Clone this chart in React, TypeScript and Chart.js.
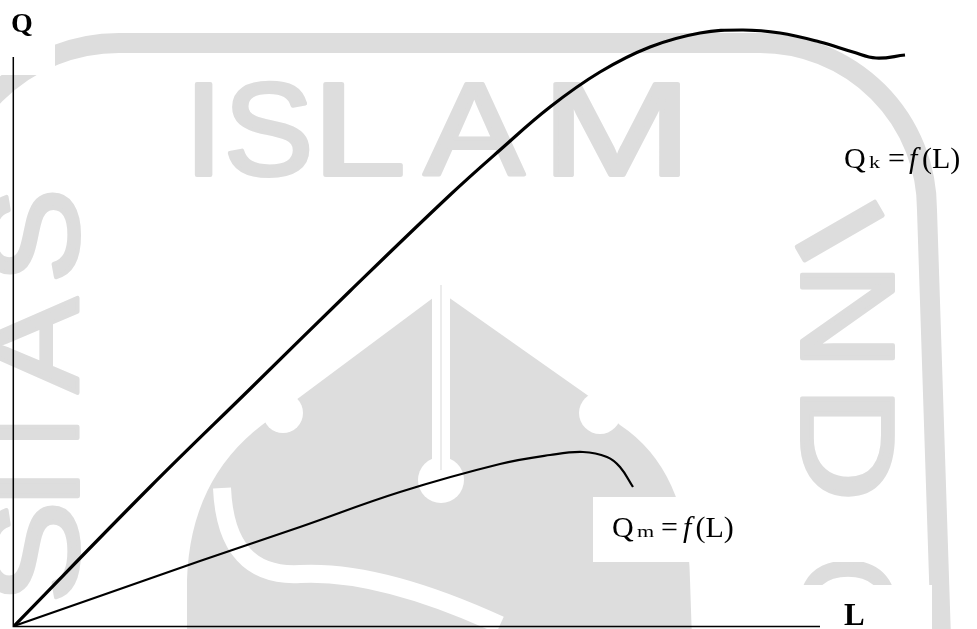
import React, { useEffect, useRef } from "react";
import { Chart, registerables } from "chart.js";

Chart.register(...registerables);

// Total product with capital (Qk) — labour input and output
const qkLabour = [0, 13.6, 23.6, 33.6, 43.6, 48.6, 53.6, 58.6, 63.6, 68.6, 72.9, 76.6, 80.6, 83.9, 86.2, 89.1];
const qkOutput = [0, 13.9, 23.7, 33.5, 43.1, 47.6, 51.9, 55.4, 57.9, 59.3, 59.6, 59.3, 58.4, 57.4, 56.8, 57.1];

// Total product without capital (Qm)
const qmLabour = [0, 8.6, 18.6, 28.6, 38.6, 48.6, 53.6, 56.9, 59.3, 60.6, 61.9];
const qmOutput = [0, 3.0, 6.5, 9.9, 13.4, 16.2, 17.1, 17.4, 16.9, 15.9, 13.9];

// Axis names and curve labels
const axisNames = ["Q", "L"];
const curveMain = ["Q", "Q"];
const curveSub = ["k", "m"];
const curveRest = ["=", "f", "(L)"];

// Axis extents (in data units)
const qAxisTop = 56.9;
const lAxisEnd = 80.6;

const W = 977;
const H = 629;
const SERIF = "'Liberation Serif', 'Times New Roman', serif";
const SANS = "'Liberation Sans', Arial, sans-serif";
const GREY = "rgb(221,221,221)";

function letter(ctx: CanvasRenderingContext2D, ch: string, x: number, y: number, angle: number, len: number) {
  const m = ctx.measureText(ch);
  const inkW = m.actualBoundingBoxLeft + m.actualBoundingBoxRight;
  ctx.save();
  ctx.translate(x, y);
  ctx.rotate(angle);
  ctx.scale(len / inkW, 1);
  ctx.fillText(ch, m.actualBoundingBoxLeft, 0);
  ctx.lineWidth = 4;
  ctx.lineJoin = "round";
  ctx.strokeText(ch, m.actualBoundingBoxLeft, 0);
  ctx.restore();
}

function circle(ctx: CanvasRenderingContext2D, x: number, y: number, r: number) {
  ctx.beginPath();
  ctx.arc(x, y, r, 0, Math.PI * 2);
  ctx.fill();
}

function drawWatermark(ctx: CanvasRenderingContext2D) {
  ctx.save();
  ctx.fillStyle = GREY;
  ctx.strokeStyle = GREY;
  ctx.textAlign = "left";
  ctx.textBaseline = "alphabetic";

  // arch band
  ctx.lineWidth = 20;
  ctx.lineCap = "butt";
  ctx.beginPath();
  ctx.moveTo(-56, 700);
  ctx.lineTo(-56, 220);
  ctx.arcTo(-56, 43, 130, 43, 175);
  ctx.lineTo(760, 43);
  ctx.arcTo(927, 43, 927, 220, 167);
  ctx.lineTo(943, 700);
  ctx.stroke();

  ctx.font = `131px ${SANS}`;
  // ISLAM
  const islam: [string, number, number][] = [
    ["I", 197, 211], ["S", 229, 308], ["L", 325, 401], ["A", 424, 525], ["M", 555, 678],
  ];
  for (const [ch, a, b] of islam) letter(ctx, ch, a, 175, 0, b - a);

  // UNIVERSITAS (left, reading upward)
  const left: [string, number, number][] = [
    ["S", 194, 278], ["A", 297, 393], ["T", 397, 468], ["I", 480, 496], ["S", 507, 598],
  ];
  for (const [ch, a, b] of left) letter(ctx, ch, 78, b, -Math.PI / 2, b - a);

  // INDONESIA (right, reading downward)
  letter(ctx, "I", 797, 247, Math.PI / 3, 16);
  const right: [string, number, number][] = [["N", 274, 358], ["D", 398, 495], ["O", 562, 653]];
  for (const [ch, a, b] of right) letter(ctx, ch, 802, a, Math.PI / 2, b - a);

  // logo
  ctx.beginPath();
  ctx.moveTo(441, 292);
  ctx.lineTo(300, 397);
  ctx.lineTo(262, 425);
  ctx.quadraticCurveTo(190, 480, 187, 580);
  ctx.lineTo(187, 640);
  ctx.lineTo(692, 640);
  ctx.lineTo(690, 580);
  ctx.quadraticCurveTo(688, 470, 620, 425);
  ctx.lineTo(590, 397);
  ctx.closePath();
  ctx.fill();

  ctx.fillStyle = "#fff";
  ctx.fillRect(432, 270, 18, 210);
  circle(ctx, 441, 480, 23);
  circle(ctx, 283, 413, 20);
  circle(ctx, 600, 413, 21);
  ctx.strokeStyle = "rgb(236,236,236)";
  ctx.lineWidth = 2;
  ctx.beginPath();
  ctx.moveTo(441, 285);
  ctx.lineTo(441, 470);
  ctx.stroke();

  ctx.strokeStyle = "#fff";
  ctx.lineWidth = 18;
  ctx.beginPath();
  ctx.moveTo(222, 488);
  ctx.quadraticCurveTo(226, 578, 300, 574);
  ctx.quadraticCurveTo(380, 570, 500, 625);
  ctx.stroke();

  // text-box backgrounds that hide the watermark
  ctx.fillStyle = "#fff";
  ctx.fillRect(0, 0, 55, 75);
  ctx.fillRect(593, 497, 285, 65);
  ctx.fillRect(760, 585, 172, 44);
  ctx.restore();
}

function drawEquation(ctx: CanvasRenderingContext2D, i: number, xs: number[], baseline: number) {
  ctx.fillStyle = "#000";
  ctx.textAlign = "left";
  ctx.textBaseline = "alphabetic";
  ctx.font = `30px ${SERIF}`;
  ctx.fillText(curveMain[i], xs[0], baseline);
  ctx.save();
  ctx.translate(xs[1], baseline);
  ctx.scale(1.3, 1);
  ctx.font = `17px ${SERIF}`;
  ctx.fillText(curveSub[i], 0, 0);
  ctx.restore();
  ctx.font = `30px ${SERIF}`;
  ctx.fillText(curveRest[0], xs[2], baseline);
  ctx.font = `italic 30px ${SERIF}`;
  ctx.fillText(curveRest[1], xs[3], baseline);
  ctx.font = `30px ${SERIF}`;
  ctx.fillText(curveRest[2], xs[4], baseline);
}

const backgroundPlugin = {
  id: "bg",
  beforeDraw(chart: any) {
    const ctx: CanvasRenderingContext2D = chart.ctx;
    ctx.save();
    ctx.fillStyle = "#fff";
    ctx.fillRect(0, 0, chart.width, chart.height);
    ctx.restore();
    drawWatermark(ctx);
  },
};

const axesPlugin = {
  id: "axesLines",
  beforeDatasetsDraw(chart: any) {
    const ctx: CanvasRenderingContext2D = chart.ctx;
    const { x, y } = chart.scales;
    const x0 = x.getPixelForValue(0) - 0.7;
    const y0 = y.getPixelForValue(0) + 0.6;
    ctx.save();
    ctx.strokeStyle = "#000";
    ctx.lineWidth = 1.5;
    ctx.beginPath();
    ctx.moveTo(x0, y.getPixelForValue(qAxisTop));
    ctx.lineTo(x0, y0);
    ctx.lineTo(x.getPixelForValue(lAxisEnd), y0);
    ctx.stroke();
    ctx.restore();
  },
};

const labelsPlugin = {
  id: "labels",
  afterDraw(chart: any) {
    const ctx: CanvasRenderingContext2D = chart.ctx;
    ctx.save();
    ctx.fillStyle = "#000";
    ctx.textAlign = "left";
    ctx.textBaseline = "alphabetic";
    ctx.font = `bold 28px ${SERIF}`;
    ctx.fillText(axisNames[0], 11, 32);
    ctx.font = `bold 31px ${SERIF}`;
    ctx.fillText(axisNames[1], 844, 625);
    drawEquation(ctx, 0, [844, 869, 888, 909, 922], 168);
    drawEquation(ctx, 1, [612, 637, 661, 683, 695.5], 537);
    ctx.restore();
  },
};

export default function App() {
  const ref = useRef<HTMLCanvasElement>(null);
  useEffect(() => {
    if (!ref.current) return;
    const chart = new Chart(ref.current, {
      type: "line",
      data: {
        datasets: [
          {
            label: "Qk = f(L)",
            data: qkLabour.map((l, i) => ({ x: l, y: qkOutput[i] })),
            borderColor: "#000",
            borderWidth: 3.2,
            pointRadius: 0,
            tension: 0.4,
            fill: false,
            clip: false,
          },
          {
            label: "Qm = f(L)",
            data: qmLabour.map((l, i) => ({ x: l, y: qmOutput[i] })),
            borderColor: "#000",
            borderWidth: 2.2,
            pointRadius: 0,
            tension: 0.4,
            fill: false,
            clip: false,
          },
        ],
      },
      options: {
        responsive: false,
        animation: false,
        devicePixelRatio: 1,
        events: [],
        layout: { padding: { left: 14, right: 0, top: 0, bottom: 3 } },
        scales: {
          x: { type: "linear", min: 0, max: 96.3, display: false },
          y: { type: "linear", min: 0, max: 62.6, display: false },
        },
        plugins: { legend: { display: false }, tooltip: { enabled: false } },
      } as any,
      plugins: [backgroundPlugin, axesPlugin, labelsPlugin],
    });
    return () => chart.destroy();
  }, []);
  return (
    <div style={{ position: "fixed", left: 0, top: 0, width: W, height: H, background: "#fff" }}>
      <canvas ref={ref} width={W} height={H} style={{ display: "block" }} />
    </div>
  );
}
